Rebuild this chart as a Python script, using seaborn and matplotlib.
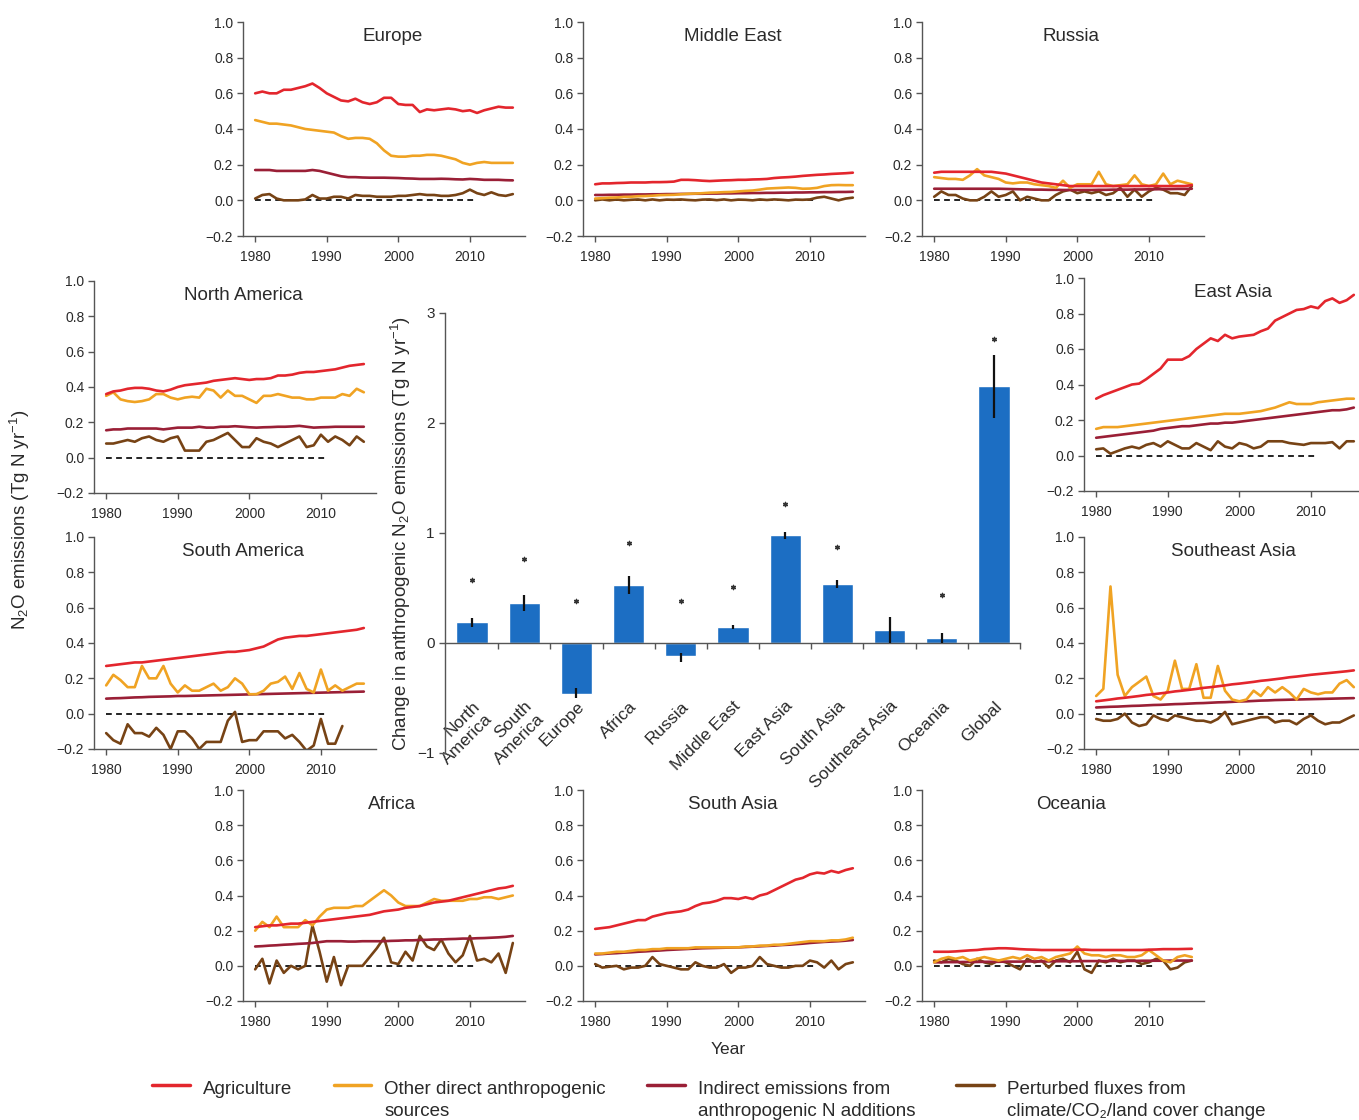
import numpy as np
import pandas as pd
import matplotlib
matplotlib.use("Agg")
import matplotlib.pyplot as plt
import seaborn as sns
from matplotlib.lines import Line2D
from matplotlib.legend_handler import HandlerLine2D
from matplotlib.ticker import FuncFormatter

# ---------------- data ----------------
YEARS = list(range(1980, 2017))

europe_agri = [0.60, 0.61, 0.60, 0.60, 0.62, 0.62, 0.63, 0.64, 0.655, 0.63, 0.60, 0.58, 0.56, 0.555, 0.57, 0.55, 0.54, 0.55, 0.575, 0.575,
               0.54, 0.535, 0.535, 0.495, 0.51, 0.505, 0.51, 0.515, 0.51, 0.50, 0.505, 0.49, 0.505, 0.515, 0.525, 0.52, 0.52]
europe_other = [0.45, 0.44, 0.43, 0.43, 0.425, 0.42, 0.41, 0.40, 0.395, 0.39, 0.385, 0.38, 0.36, 0.345, 0.35, 0.35, 0.345, 0.32, 0.28, 0.25,
                0.245, 0.245, 0.25, 0.25, 0.255, 0.255, 0.25, 0.24, 0.23, 0.21, 0.20, 0.21, 0.215, 0.21, 0.21, 0.21, 0.21]
europe_indirect = [0.17, 0.17, 0.17, 0.165, 0.165, 0.165, 0.165, 0.165, 0.17, 0.165, 0.155, 0.145, 0.135, 0.13, 0.13, 0.128, 0.127, 0.127, 0.127, 0.126,
                   0.125, 0.123, 0.122, 0.12, 0.12, 0.12, 0.121, 0.12, 0.118, 0.117, 0.12, 0.118, 0.115, 0.115, 0.115, 0.113, 0.112]
europe_pert = [0.01, 0.03, 0.035, 0.01, 0.0, 0.0, 0.0, 0.005, 0.03, 0.01, 0.01, 0.02, 0.02, 0.01, 0.03, 0.025, 0.025, 0.02, 0.02, 0.02,
               0.025, 0.025, 0.03, 0.035, 0.03, 0.03, 0.025, 0.025, 0.03, 0.04, 0.06, 0.04, 0.03, 0.045, 0.03, 0.025, 0.035]

mideast_agri = [0.09, 0.095, 0.095, 0.097, 0.098, 0.10, 0.10, 0.10, 0.102, 0.102, 0.103, 0.105, 0.115, 0.115, 0.113, 0.11, 0.108, 0.11, 0.112, 0.113,
                0.115, 0.115, 0.117, 0.118, 0.12, 0.125, 0.128, 0.13, 0.133, 0.137, 0.14, 0.143, 0.145, 0.148, 0.15, 0.152, 0.155]
mideast_other = [0.01, 0.012, 0.015, 0.016, 0.019, 0.02, 0.023, 0.024, 0.026, 0.029, 0.03, 0.031, 0.034, 0.037, 0.038, 0.04, 0.043, 0.044, 0.046, 0.047,
                 0.05, 0.053, 0.055, 0.06, 0.066, 0.068, 0.07, 0.072, 0.07, 0.065, 0.066, 0.07, 0.08, 0.085, 0.086, 0.085, 0.085]
mideast_indirect = [0.03, 0.03, 0.031, 0.031, 0.032, 0.032, 0.033, 0.033, 0.034, 0.034, 0.035, 0.035, 0.036, 0.036, 0.037, 0.037, 0.038, 0.038, 0.039, 0.039,
                    0.04, 0.04, 0.041, 0.041, 0.042, 0.042, 0.043, 0.043, 0.044, 0.044, 0.045, 0.045, 0.046, 0.046, 0.047, 0.047, 0.048]
mideast_pert = [0.0, 0.005, 0.0, 0.005, 0.0, 0.003, 0.005, 0.0, 0.005, 0.0, 0.004, 0.003, 0.005, 0.002, 0.0, 0.004, 0.005, 0.001, 0.005, 0.0,
                0.004, 0.003, 0.0, 0.005, 0.002, 0.005, 0.003, 0.0, 0.004, 0.003, 0.005, 0.015, 0.02, 0.01, 0.0, 0.01, 0.015]

russia_agri = [0.155, 0.16, 0.16, 0.16, 0.16, 0.16, 0.16, 0.16, 0.16, 0.155, 0.15, 0.14, 0.13, 0.12, 0.11, 0.10, 0.095, 0.09, 0.085, 0.08,
               0.08, 0.08, 0.08, 0.08, 0.08, 0.08, 0.08, 0.08, 0.08, 0.08, 0.08, 0.08, 0.08, 0.08, 0.08, 0.08, 0.085]
russia_other = [0.13, 0.125, 0.12, 0.12, 0.115, 0.14, 0.175, 0.14, 0.13, 0.12, 0.10, 0.095, 0.10, 0.10, 0.09, 0.085, 0.08, 0.07, 0.11, 0.07,
                0.09, 0.09, 0.09, 0.16, 0.09, 0.08, 0.085, 0.09, 0.14, 0.09, 0.08, 0.09, 0.15, 0.09, 0.11, 0.10, 0.09]
russia_indirect = [0.065, 0.065, 0.065, 0.065, 0.065, 0.065, 0.065, 0.065, 0.065, 0.065, 0.064, 0.063, 0.062, 0.061, 0.06, 0.06, 0.059, 0.059, 0.058, 0.058,
                   0.058, 0.058, 0.058, 0.059, 0.059, 0.06, 0.06, 0.06, 0.061, 0.061, 0.062, 0.062, 0.063, 0.063, 0.064, 0.064, 0.065]
russia_pert = [0.02, 0.05, 0.03, 0.03, 0.01, 0.0, 0.0, 0.02, 0.05, 0.02, 0.03, 0.05, 0.0, 0.02, 0.01, 0.0, 0.0, 0.03, 0.05, 0.06,
               0.04, 0.05, 0.04, 0.05, 0.03, 0.04, 0.07, 0.02, 0.06, 0.02, 0.05, 0.07, 0.06, 0.04, 0.04, 0.03, 0.08]

namerica_agri = [0.36, 0.375, 0.38, 0.39, 0.395, 0.395, 0.39, 0.38, 0.375, 0.385, 0.40, 0.41, 0.415, 0.42, 0.425, 0.435, 0.44, 0.445, 0.45, 0.445,
                 0.44, 0.445, 0.445, 0.45, 0.465, 0.465, 0.47, 0.48, 0.485, 0.485, 0.49, 0.495, 0.50, 0.51, 0.52, 0.525, 0.53]
namerica_other = [0.35, 0.37, 0.33, 0.32, 0.315, 0.32, 0.33, 0.36, 0.36, 0.34, 0.33, 0.34, 0.345, 0.34, 0.39, 0.38, 0.34, 0.38, 0.35, 0.35,
                  0.33, 0.31, 0.35, 0.35, 0.36, 0.35, 0.34, 0.34, 0.33, 0.33, 0.34, 0.34, 0.34, 0.36, 0.35, 0.39, 0.37]
namerica_indirect = [0.155, 0.16, 0.16, 0.165, 0.165, 0.165, 0.165, 0.165, 0.16, 0.165, 0.17, 0.17, 0.17, 0.175, 0.17, 0.17, 0.175, 0.175, 0.178, 0.175,
                     0.172, 0.17, 0.172, 0.173, 0.175, 0.175, 0.177, 0.18, 0.175, 0.17, 0.172, 0.173, 0.175, 0.175, 0.175, 0.175, 0.175]
namerica_pert = [0.08, 0.08, 0.09, 0.10, 0.09, 0.11, 0.12, 0.10, 0.09, 0.11, 0.12, 0.04, 0.04, 0.04, 0.09, 0.10, 0.12, 0.14, 0.10, 0.06,
                 0.06, 0.11, 0.09, 0.08, 0.06, 0.08, 0.10, 0.12, 0.06, 0.07, 0.13, 0.09, 0.12, 0.10, 0.07, 0.12, 0.09]

samerica_agri = [0.27, 0.275, 0.28, 0.285, 0.29, 0.29, 0.295, 0.30, 0.305, 0.31, 0.315, 0.32, 0.325, 0.33, 0.335, 0.34, 0.345, 0.35, 0.35, 0.355,
                 0.36, 0.37, 0.38, 0.40, 0.42, 0.43, 0.435, 0.44, 0.44, 0.445, 0.45, 0.455, 0.46, 0.465, 0.47, 0.475, 0.485]
samerica_other = [0.16, 0.22, 0.19, 0.15, 0.15, 0.27, 0.20, 0.20, 0.27, 0.17, 0.12, 0.16, 0.13, 0.13, 0.15, 0.17, 0.13, 0.15, 0.20, 0.17,
                  0.11, 0.11, 0.13, 0.17, 0.18, 0.21, 0.14, 0.23, 0.14, 0.12, 0.25, 0.13, 0.16, 0.13, 0.15, 0.17, 0.17]
samerica_indirect = [0.085, 0.087, 0.088, 0.09, 0.092, 0.093, 0.095, 0.096, 0.097, 0.098, 0.10, 0.10, 0.101, 0.102, 0.103, 0.104, 0.105, 0.106, 0.107, 0.108,
                     0.109, 0.11, 0.111, 0.112, 0.113, 0.114, 0.115, 0.116, 0.117, 0.118, 0.119, 0.12, 0.121, 0.122, 0.123, 0.124, 0.125]
samerica_pert = [-0.11, -0.15, -0.17, -0.06, -0.11, -0.11, -0.13, -0.08, -0.12, -0.20, -0.10, -0.10, -0.14, -0.20, -0.16, -0.16, -0.16, -0.04, 0.01, -0.16,
                 -0.15, -0.15, -0.10, -0.10, -0.10, -0.14, -0.12, -0.16, -0.21, -0.18, -0.03, -0.17, -0.17, -0.07]

eastasia_agri = [0.32, 0.34, 0.355, 0.37, 0.385, 0.40, 0.405, 0.43, 0.46, 0.49, 0.54, 0.54, 0.54, 0.56, 0.60, 0.63, 0.66, 0.645, 0.68, 0.66,
                 0.67, 0.675, 0.68, 0.70, 0.715, 0.76, 0.78, 0.80, 0.82, 0.825, 0.84, 0.83, 0.87, 0.885, 0.86, 0.875, 0.905]
eastasia_other = [0.15, 0.16, 0.16, 0.16, 0.165, 0.17, 0.175, 0.18, 0.185, 0.19, 0.195, 0.20, 0.205, 0.21, 0.215, 0.22, 0.225, 0.23, 0.235, 0.235,
                  0.235, 0.24, 0.245, 0.25, 0.26, 0.27, 0.285, 0.30, 0.29, 0.29, 0.29, 0.30, 0.305, 0.31, 0.315, 0.32, 0.32]
eastasia_indirect = [0.10, 0.105, 0.11, 0.115, 0.12, 0.125, 0.13, 0.135, 0.14, 0.15, 0.155, 0.16, 0.165, 0.165, 0.17, 0.175, 0.18, 0.18, 0.185, 0.185,
                     0.19, 0.195, 0.20, 0.205, 0.21, 0.215, 0.22, 0.225, 0.23, 0.235, 0.24, 0.245, 0.25, 0.255, 0.255, 0.26, 0.27]
eastasia_pert = [0.035, 0.04, 0.01, 0.025, 0.04, 0.05, 0.04, 0.06, 0.07, 0.05, 0.08, 0.06, 0.04, 0.04, 0.07, 0.05, 0.03, 0.08, 0.05, 0.04,
                 0.07, 0.06, 0.04, 0.05, 0.08, 0.08, 0.08, 0.07, 0.065, 0.06, 0.07, 0.07, 0.07, 0.075, 0.04, 0.08, 0.08]

seasia_agri = [0.07, 0.075, 0.08, 0.086, 0.09, 0.095, 0.10, 0.106, 0.11, 0.115, 0.12, 0.126, 0.13, 0.135, 0.14, 0.146, 0.15, 0.155, 0.16, 0.166,
               0.17, 0.175, 0.18, 0.186, 0.19, 0.195, 0.20, 0.206, 0.21, 0.215, 0.22, 0.224, 0.228, 0.232, 0.236, 0.24, 0.245]
seasia_other = [0.10, 0.14, 0.72, 0.22, 0.10, 0.15, 0.18, 0.21, 0.10, 0.08, 0.13, 0.30, 0.14, 0.14, 0.28, 0.09, 0.09, 0.27, 0.13, 0.08,
                0.07, 0.08, 0.13, 0.10, 0.15, 0.12, 0.15, 0.12, 0.08, 0.14, 0.12, 0.11, 0.12, 0.12, 0.17, 0.19, 0.15]
seasia_indirect = [0.035, 0.037, 0.039, 0.04, 0.042, 0.044, 0.045, 0.047, 0.049, 0.05, 0.052, 0.054, 0.055, 0.057, 0.059, 0.06, 0.062, 0.064, 0.065, 0.067,
                   0.069, 0.07, 0.072, 0.074, 0.075, 0.077, 0.078, 0.079, 0.08, 0.081, 0.082, 0.083, 0.084, 0.085, 0.086, 0.087, 0.088]
seasia_pert = [-0.03, -0.04, -0.04, -0.03, 0.0, -0.05, -0.07, -0.06, -0.01, -0.03, -0.04, -0.01, -0.02, -0.03, -0.04, -0.04, -0.05, -0.03, 0.01, -0.06,
               -0.05, -0.04, -0.03, -0.02, -0.02, -0.05, -0.04, -0.04, -0.06, -0.03, -0.01, -0.04, -0.06, -0.05, -0.05, -0.03, -0.01]

africa_agri = [0.22, 0.225, 0.23, 0.23, 0.235, 0.24, 0.24, 0.245, 0.25, 0.255, 0.26, 0.265, 0.27, 0.275, 0.28, 0.285, 0.29, 0.30, 0.31, 0.315,
               0.32, 0.33, 0.335, 0.34, 0.35, 0.36, 0.365, 0.37, 0.38, 0.39, 0.40, 0.41, 0.42, 0.43, 0.44, 0.445, 0.455]
africa_other = [0.20, 0.25, 0.22, 0.28, 0.22, 0.22, 0.22, 0.26, 0.23, 0.28, 0.32, 0.33, 0.33, 0.33, 0.34, 0.34, 0.37, 0.40, 0.43, 0.40,
                0.36, 0.34, 0.34, 0.34, 0.36, 0.38, 0.37, 0.37, 0.37, 0.37, 0.38, 0.38, 0.39, 0.39, 0.38, 0.39, 0.40]
africa_indirect = [0.11, 0.112, 0.115, 0.117, 0.12, 0.122, 0.125, 0.127, 0.13, 0.135, 0.14, 0.14, 0.14, 0.138, 0.138, 0.14, 0.14, 0.14, 0.14, 0.142,
                   0.143, 0.145, 0.145, 0.147, 0.148, 0.15, 0.15, 0.152, 0.153, 0.155, 0.155, 0.157, 0.158, 0.16, 0.162, 0.165, 0.17]
africa_pert = [-0.02, 0.04, -0.10, 0.03, -0.04, 0.0, -0.02, 0.0, 0.23, 0.08, -0.09, 0.05, -0.11, 0.0, 0.0, 0.0, 0.05, 0.10, 0.16, 0.02,
               0.01, 0.08, 0.03, 0.17, 0.11, 0.09, 0.15, 0.07, 0.02, 0.06, 0.17, 0.03, 0.04, 0.02, 0.07, -0.04, 0.13]

sasia_agri = [0.21, 0.215, 0.22, 0.23, 0.24, 0.25, 0.26, 0.26, 0.28, 0.29, 0.30, 0.305, 0.31, 0.32, 0.34, 0.355, 0.36, 0.37, 0.385, 0.385,
              0.38, 0.39, 0.38, 0.40, 0.41, 0.43, 0.45, 0.47, 0.49, 0.50, 0.52, 0.53, 0.525, 0.54, 0.53, 0.545, 0.555]
sasia_other = [0.07, 0.07, 0.075, 0.08, 0.08, 0.085, 0.09, 0.09, 0.095, 0.095, 0.10, 0.10, 0.10, 0.10, 0.105, 0.105, 0.105, 0.105, 0.105, 0.105,
               0.105, 0.11, 0.11, 0.115, 0.115, 0.12, 0.12, 0.125, 0.13, 0.135, 0.14, 0.14, 0.14, 0.145, 0.145, 0.15, 0.16]
sasia_indirect = [0.065, 0.067, 0.07, 0.072, 0.075, 0.077, 0.08, 0.082, 0.085, 0.087, 0.09, 0.092, 0.094, 0.096, 0.098, 0.10, 0.101, 0.102, 0.103, 0.104,
                  0.105, 0.107, 0.109, 0.111, 0.113, 0.115, 0.118, 0.12, 0.123, 0.126, 0.13, 0.133, 0.136, 0.138, 0.14, 0.143, 0.147]
sasia_pert = [0.01, -0.01, -0.005, 0.0, -0.02, -0.01, -0.01, 0.0, 0.05, 0.01, 0.0, -0.01, -0.02, -0.02, 0.02, 0.0, -0.01, -0.01, 0.01, -0.04,
              -0.01, -0.01, 0.0, 0.05, 0.01, 0.0, -0.01, -0.01, 0.0, 0.0, 0.03, 0.02, -0.01, 0.03, -0.02, 0.01, 0.02]

oceania_agri = [0.08, 0.08, 0.08, 0.082, 0.085, 0.088, 0.09, 0.095, 0.097, 0.10, 0.10, 0.098, 0.095, 0.093, 0.092, 0.09, 0.09, 0.09, 0.09, 0.09,
                0.092, 0.092, 0.09, 0.09, 0.09, 0.09, 0.09, 0.09, 0.09, 0.09, 0.092, 0.093, 0.095, 0.095, 0.095, 0.096, 0.097]
oceania_other = [0.02, 0.04, 0.05, 0.04, 0.05, 0.03, 0.04, 0.05, 0.04, 0.03, 0.04, 0.05, 0.04, 0.06, 0.04, 0.05, 0.03, 0.05, 0.06, 0.07,
                 0.11, 0.07, 0.06, 0.06, 0.05, 0.06, 0.06, 0.05, 0.05, 0.06, 0.09, 0.06, 0.03, 0.02, 0.05, 0.06, 0.05]
oceania_indirect = [0.02, 0.02, 0.021, 0.021, 0.022, 0.022, 0.022, 0.023, 0.023, 0.023, 0.024, 0.024, 0.024, 0.025, 0.025, 0.025, 0.025, 0.026, 0.026, 0.026,
                    0.026, 0.027, 0.027, 0.027, 0.027, 0.028, 0.028, 0.028, 0.028, 0.029, 0.029, 0.029, 0.029, 0.03, 0.03, 0.03, 0.03]
oceania_pert = [0.03, 0.02, 0.04, 0.03, 0.01, 0.0, 0.04, 0.02, 0.01, 0.03, 0.02, 0.0, -0.02, 0.04, 0.02, 0.03, -0.01, 0.03, 0.04, 0.02,
                0.08, -0.02, -0.04, 0.03, 0.02, 0.04, 0.02, 0.03, 0.03, 0.01, 0.02, 0.04, 0.03, -0.02, -0.01, 0.02, 0.03]

BAR_LABELS = ["North\nAmerica", "South\nAmerica", "Europe", "Africa", "Russia", "Middle East",
              "East Asia", "South Asia", "Southeast Asia", "Oceania", "Global"]
BAR_VALUES = [0.19, 0.36, -0.46, 0.53, -0.12, 0.145, 0.98, 0.535, 0.115, 0.045, 2.34]
ERR_LOW = [0.15, 0.29, -0.50, 0.45, -0.17, 0.13, 0.95, 0.50, 0.0, 0.0, 2.05]
ERR_HIGH = [0.23, 0.44, -0.41, 0.61, -0.09, 0.165, 1.01, 0.57, 0.24, 0.09, 2.62]
STAR_Y = [0.57, 0.76, 0.38, 0.91, 0.38, 0.51, 1.26, 0.87, None, 0.44, 2.76]

SERIES_NAMES = ["Agriculture", "Other direct anthropogenic\nsources",
                "Indirect emissions from\nanthropogenic N additions",
                "Perturbed fluxes from\nclimate/CO\u2082/land cover change"]

# ---------------- style ----------------
sns.set_theme(style="ticks")
plt.rcParams["font.family"] = ["Liberation Sans", "DejaVu Sans"]
plt.rcParams["mathtext.fontset"] = "custom"
plt.rcParams["mathtext.rm"] = "Liberation Sans"
plt.rcParams["mathtext.it"] = "Liberation Sans:italic"
plt.rcParams["mathtext.default"] = "regular"
TXT = "#2a2a2a"
SPINE = "#555555"
plt.rcParams["text.color"] = TXT
plt.rcParams["axes.labelcolor"] = TXT
plt.rcParams["xtick.color"] = SPINE
plt.rcParams["ytick.color"] = SPINE
plt.rcParams["xtick.labelcolor"] = TXT
plt.rcParams["ytick.labelcolor"] = TXT

COLORS = {"agri": "#e3262d", "other": "#f0a323", "indirect": "#9a1f36", "pert": "#774315"}
BAR_COLOR = "#1c6ec3"

W, H = 1359, 1120
fig = plt.figure(figsize=(W / 100, H / 100), dpi=100)


def px_axes(l, t, w, h):
    return fig.add_axes([l / W, 1 - (t + h) / H, w / W, h / H])


def fmt(v, p):
    return f"{v:.1f}".replace("-", "\u2212")


def panel(rect, title, agri, other, indirect, pert):
    ax = px_axes(*rect)
    ax.hlines(0, 1980, 2011, colors="#111111", linestyles=(0, (3.2, 2.4)), lw=1.3, zorder=1)
    for vals, key in [(pert, "pert"), (indirect, "indirect"), (other, "other"), (agri, "agri")]:
        sns.lineplot(x=YEARS[:len(vals)], y=vals, ax=ax, color=COLORS[key], lw=1.9, legend=False, zorder=2)
    ax.set_xlim(1978.3, 2017.7)
    ax.set_ylim(-0.2, 1.0)
    ax.set_xticks([1980, 1990, 2000, 2010])
    ax.set_yticks([-0.2, 0.0, 0.2, 0.4, 0.6, 0.8, 1.0])
    ax.yaxis.set_major_formatter(FuncFormatter(fmt))
    ax.set_xlabel("")
    ax.set_ylabel("")
    sns.despine(ax=ax)
    for s in ["left", "bottom"]:
        ax.spines[s].set_color(SPINE)
        ax.spines[s].set_linewidth(1.0)
    ax.tick_params(labelsize=10, length=4, width=1.0)
    ax.tick_params(axis="x", pad=6)
    ax.tick_params(axis="y", pad=3)
    ax.text(0.53, 0.93, title, transform=ax.transAxes, ha="center", va="center", fontsize=13.5, color=TXT)
    ax.patch.set_alpha(0)
    return ax


panel((243, 22, 282, 214), "Europe", europe_agri, europe_other, europe_indirect, europe_pert)
panel((583, 22, 282, 214), "Middle East", mideast_agri, mideast_other, mideast_indirect, mideast_pert)
panel((922, 22, 282, 214), "Russia", russia_agri, russia_other, russia_indirect, russia_pert)
panel((94, 281, 282, 212), "North America", namerica_agri, namerica_other, namerica_indirect, namerica_pert)
panel((94, 537, 282, 212), "South America", samerica_agri, samerica_other, samerica_indirect, samerica_pert)
panel((1084, 278, 282, 213), "East Asia", eastasia_agri, eastasia_other, eastasia_indirect, eastasia_pert)
panel((1084, 537, 282, 212), "Southeast Asia", seasia_agri, seasia_other, seasia_indirect, seasia_pert)
panel((243, 790, 282, 211), "Africa", africa_agri, africa_other, africa_indirect, africa_pert)
panel((583, 790, 282, 211), "South Asia", sasia_agri, sasia_other, sasia_indirect, sasia_pert)
panel((922, 790, 282, 211), "Oceania", oceania_agri, oceania_other, oceania_indirect, oceania_pert)

# ---------------- central bar chart ----------------
axb = px_axes(445, 313, 575, 440)
df = pd.DataFrame({"region": BAR_LABELS, "change": BAR_VALUES})
sns.barplot(data=df, x="region", y="change", color=BAR_COLOR, saturation=1, width=0.6, ax=axb, zorder=2)
xs = np.arange(len(BAR_LABELS))
axb.vlines(xs, ERR_LOW, ERR_HIGH, colors="#111111", lw=1.6, zorder=3)
sx = [x for x, s in zip(xs, STAR_Y) if s is not None]
sy = [s for s in STAR_Y if s is not None]
axb.scatter(sx, sy, marker=(6, 2, 0), s=9, color="#333333", linewidths=1.0, zorder=3)
axb.set_xlim(-0.52, 10.5)
axb.set_ylim(-1, 3)
axb.set_yticks([-1, 0, 1, 2, 3])
sns.despine(ax=axb)
axb.spines["bottom"].set_position(("data", 0))
for s in ["left", "bottom"]:
    axb.spines[s].set_color(SPINE)
    axb.spines[s].set_linewidth(1.0)
axb.set_xticks(xs + 0.5, minor=True)
axb.tick_params(axis="x", which="minor", length=4, width=1.0, direction="out")
axb.tick_params(axis="x", which="major", length=0, pad=40, labelsize=12.5)
axb.set_xticklabels(BAR_LABELS, rotation=45, ha="right", va="top", rotation_mode="anchor", multialignment="right")
axb.tick_params(axis="y", labelsize=11, length=4, width=1.0)
axb.set_xlabel("")
axb.set_ylabel("Change in anthropogenic N$_2$O emissions (Tg N yr$^{-1}$)", fontsize=13.5, labelpad=3)
axb.patch.set_alpha(0)

# ---------------- shared labels ----------------
fig.text(20 / W, 1 - 520 / H, "N$_2$O emissions (Tg N yr$^{-1}$)", rotation=90, ha="center", va="center", fontsize=13.5)
fig.text(728 / W, 1 - 1050 / H, "Year", ha="center", va="center", fontsize=12.5)

LEG_FS = 13.5
LINESP = 1.34


class UpHandler(HandlerLine2D):
    def create_artists(self, legend, orig_handle, xdescent, ydescent, width, height, fontsize, trans):
        arts = super().create_artists(legend, orig_handle, xdescent, ydescent, width, height, fontsize, trans)
        for a in arts:
            a.set_ydata(np.asarray(a.get_ydata(), dtype=float) + fontsize * 0.85)
        return arts


handles = [Line2D([], [], color=COLORS[k], lw=2.5) for k in ["agri", "other", "indirect", "pert"]]
labels = [SERIES_NAMES[0] + "\n ", SERIES_NAMES[1], SERIES_NAMES[2], SERIES_NAMES[3]]
leg = fig.legend(handles, labels, loc="upper center", bbox_to_anchor=(709 / W, 1 - 1072 / H), ncol=4,
                 frameon=False, fontsize=LEG_FS, handlelength=2.0, handletextpad=0.7, columnspacing=2.2,
                 borderpad=0, handler_map={Line2D: UpHandler()})
for t in leg.get_texts():
    t.set_linespacing(LINESP)

fig.savefig("out.png", dpi=100)
